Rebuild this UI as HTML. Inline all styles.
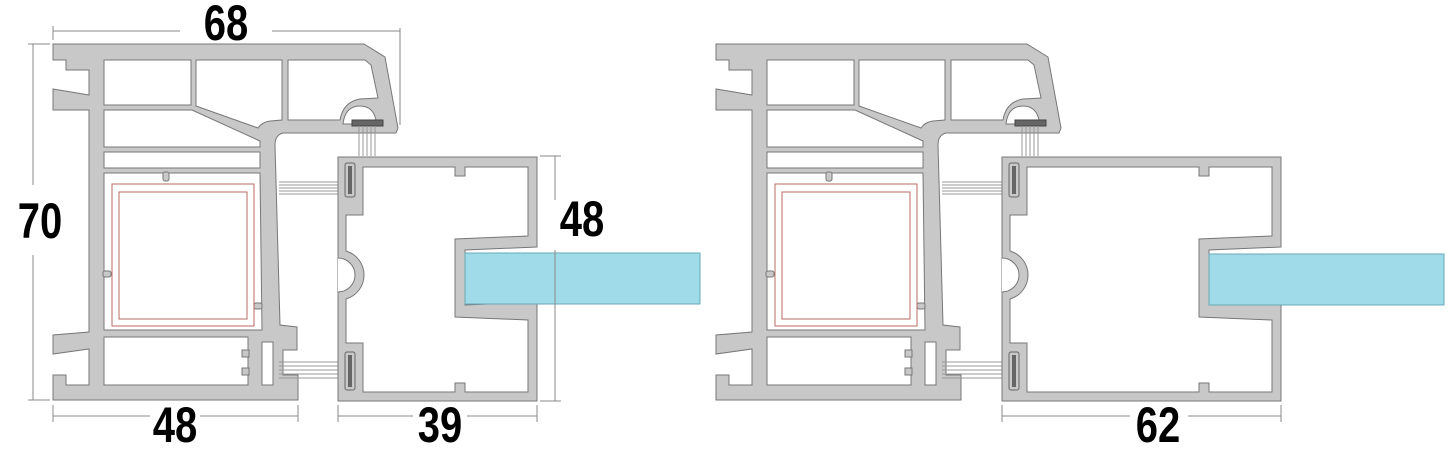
<!DOCTYPE html>
<html><head><meta charset="utf-8"><style>
html,body{margin:0;padding:0;background:#fff;width:1451px;height:450px;overflow:hidden}
svg{display:block}
.g{fill:#c8c8c8;stroke:#777;stroke-width:1}
.w{fill:#fff;stroke:#777;stroke-width:1}
.d{stroke:#888;stroke-width:1;fill:none}
.t{font-family:"Liberation Sans",sans-serif;font-weight:bold;font-size:50px;fill:#000}
.r{fill:none;stroke:#b86a62;stroke-width:1}
.fin{stroke:#999;stroke-width:1}
</style></head><body>
<svg width="1451" height="450" viewBox="0 0 1451 450" xmlns="http://www.w3.org/2000/svg">
<defs>
<g id="fr">
  <path class="g" d="M53,44 L364,44 L385,57 L398,128 L396,133 L283,133 Q275,135 275,145 L280,325 L297,327 L297,350 L283,350 L283,375 L298,375 L298,400 L53,400 L53,375 L66,375 L66,385 L89,385 L89,349 L53,354 L53,335 L89,332 L89,110 L53,110 L53,89 L89,95 L89,70 L66,70 L66,60 L53,60 Z"/>
  <rect class="w" x="104" y="60" width="87" height="45"/>
  <path class="w" d="M196,60 L282,60 L282,120 L270,121 Q262,122 258,128 L196,106 Z"/>
  <path class="w" d="M288,60 L365,60 L371,65 L378,98 L360,99 Q343,102 340,120 L288,120 Z"/>
  <path class="w" d="M104,110 L192,110 L260,141 L260,147 L104,147 Z"/>
  <rect class="w" x="104" y="152" width="156" height="16"/>
  <path class="w" d="M104,173 L260,173 L262,330 L104,330 Z"/>
  <rect class="g" x="163" y="172" width="6" height="9" rx="2"/>
  <rect class="g" x="103" y="271" width="8" height="6" rx="2"/>
  <rect class="g" x="254" y="303" width="8" height="6" rx="2"/>
  <rect class="w" x="104" y="337" width="144" height="48"/>
  <rect class="g" x="242" y="350" width="7" height="7"/>
  <rect class="g" x="242" y="368" width="7" height="7"/>
  <rect class="w" x="262" y="342" width="11" height="43"/>
  <rect class="r" x="112" y="184" width="142" height="142"/>
  <rect class="r" x="119" y="192" width="128" height="127"/>
  <path class="w" d="M343,124 Q345,106 360,106 Q373,106 376,120 L376,124 Z"/>
  <rect x="352" y="120" width="31" height="6" fill="#666" stroke="#444"/>
  <g class="fin">
    <line x1="359" y1="126" x2="359" y2="156"/><line x1="363" y1="126" x2="363" y2="156"/>
    <line x1="367" y1="126" x2="367" y2="156"/><line x1="371" y1="126" x2="371" y2="156"/>
    <line x1="375" y1="126" x2="375" y2="156"/>
    <line x1="279" y1="182" x2="345" y2="182"/><line x1="279" y1="185" x2="345" y2="185"/>
    <line x1="279" y1="188" x2="345" y2="188"/><line x1="279" y1="191" x2="345" y2="191"/>
    <line x1="279" y1="194" x2="345" y2="194"/>
    <line x1="279" y1="362" x2="345" y2="362"/><line x1="279" y1="366" x2="345" y2="366"/>
    <line x1="279" y1="370" x2="345" y2="370"/><line x1="279" y1="374" x2="345" y2="374"/>
    <line x1="279" y1="378" x2="345" y2="378"/>
  </g>
</g>
</defs>
<use href="#fr"/>
<use href="#fr" transform="translate(663,0)"/>

<!-- left sash L=338 R=537 S=455 -->
<path class="g" d="M338,157 L537,157 L537,247 L465,250 L465,305 L537,302 L537,401 L338,401 Z"/>
<path class="w" d="M363,167 L455,167 L455,176 L465,176 L465,167 L528,167 L528,236 L455,239 L455,317 L528,320 L528,392 L465,392 L465,383 L455,383 L455,392 L363,392 L363,343 L346,343 L346,299 A25,25 0 0 0 346,251 L346,215 L363,215 Z"/>
<path fill="#fff" stroke="#777" d="M338,258 A17,17 0 0 1 338,292"/>
<rect x="345" y="163" width="10" height="34" rx="2" fill="#c8c8c8" stroke="#666"/>
<rect x="348" y="166" width="4" height="28" fill="#666"/>
<rect x="345" y="352" width="10" height="38" rx="2" fill="#c8c8c8" stroke="#666"/>
<rect x="348" y="355" width="4" height="32" fill="#666"/>
<rect x="465" y="253" width="235" height="51" fill="#9fdbe9" stroke="#6aaab8"/>

<!-- right sash L=1002 R=1281 S=1199 -->
<path class="g" d="M1002,157 L1281,157 L1281,247 L1209,250 L1209,305 L1281,302 L1281,401 L1002,401 Z"/>
<path class="w" d="M1027,167 L1199,167 L1199,176 L1209,176 L1209,167 L1272,167 L1272,236 L1199,239 L1199,317 L1272,320 L1272,392 L1209,392 L1209,383 L1199,383 L1199,392 L1027,392 L1027,343 L1010,343 L1010,299 A25,25 0 0 0 1010,251 L1010,215 L1027,215 Z"/>
<path fill="#fff" stroke="#777" d="M1002,258 A17,17 0 0 1 1002,292"/>
<rect x="1009" y="163" width="10" height="34" rx="2" fill="#c8c8c8" stroke="#666"/>
<rect x="1012" y="166" width="4" height="28" fill="#666"/>
<rect x="1009" y="352" width="10" height="38" rx="2" fill="#c8c8c8" stroke="#666"/>
<rect x="1012" y="355" width="4" height="32" fill="#666"/>
<rect x="1209" y="254" width="235" height="51" fill="#9fdbe9" stroke="#6aaab8"/>

<!-- dimensions -->
<g class="d">
  <path d="M53,31 H180 M272,31 H400 M53,26 V40 M400,28 V125"/>
  <path d="M33,44 V185 M33,255 V400 M28,44 H50 M28,400 H50"/>
  <path d="M53,416 H150 M200,416 H298 M53,405 V422 M298,405 V422"/>
  <path d="M338,416 H413 M467,416 H537 M338,405 V422 M537,405 V422"/>
  <path d="M555,156 V200 M555,250 V401 M540,156 H561 M540,401 H561"/>
  <path d="M1002,416 H1130 M1188,416 H1281 M1002,405 V422 M1281,405 V422"/>
</g>
<g class="t" text-anchor="middle">
  <text transform="translate(226,40) scale(0.8,1)">68</text>
  <text transform="translate(40,238) scale(0.8,1)">70</text>
  <text transform="translate(175,442) scale(0.8,1)">48</text>
  <text transform="translate(440,442) scale(0.8,1)">39</text>
  <text transform="translate(582,236) scale(0.8,1)">48</text>
  <text transform="translate(1158,442) scale(0.8,1)">62</text>
</g>
</svg>
</body></html>
